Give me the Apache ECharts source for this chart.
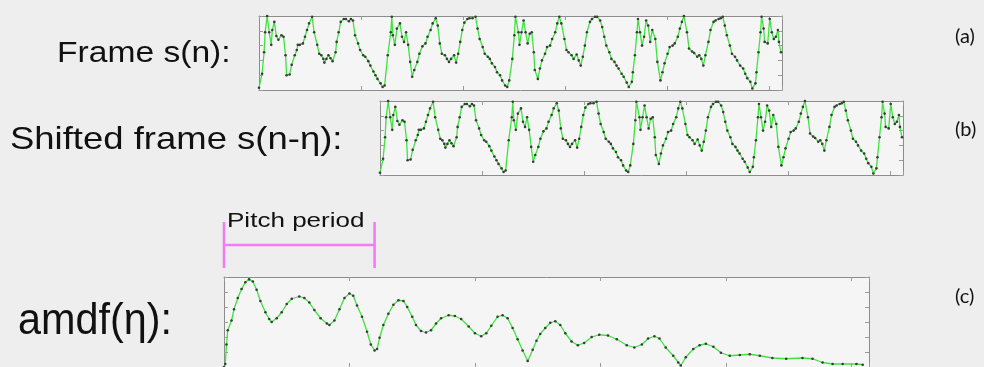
<!DOCTYPE html>
<html><head><meta charset="utf-8">
<script src="https://cdn.jsdelivr.net/npm/echarts@6/dist/echarts.min.js"></script>
<style>html,body{margin:0;padding:0;background:#eeeeee}#c{width:984px;height:367px}</style>
</head><body><div id="c"></div>
<script>
// Speech frame s(n): [sample index n, amplitude (0..100 of frame range)]
const frameSignal = [[0,3],[3,22],[5,51],[6,78],[8,100],[10,78],[12,61],[13,81],[15,92],[17,73],[19,68],[22,74],[24,72],[26,47],[27,20],[30,21],[32,34],[35,47],[37,54],[38,61],[40,61],[43,63],[45,72],[47,81],[49,90],[52,99],[54,78],[57,61],[59,49],[61,47],[63,42],[64,37],[66,42],[68,47],[70,43],[72,39],[75,51],[76,65],[78,78],[80,92],[83,96],[85,96],[88,93],[90,96],[92,94],[94,74],[97,63],[99,54],[102,47],[104,45],[107,39],[109,33],[112,25],[114,20],[116,15],[119,9],[121,4],[123,6],[126,47],[129,78],[130,99],[131,74],[133,61],[135,83],[138,90],[140,72],[142,65],[144,78],[146,61],[148,38],[150,18],[152,27],[155,38],[157,49],[160,59],[163,63],[165,72],[168,81],[170,90],[173,97],[175,87],[177,63],[179,49],[182,47],[184,42],[186,38],[188,42],[191,47],[193,37],[195,49],[197,65],[199,81],[201,91],[204,96],[206,97],[209,97],[212,99],[214,83],[216,69],[219,58],[221,49],[224,45],[226,42],[228,36],[231,31],[233,24],[236,20],[238,13],[241,6],[243,4],[245,13],[248,42],[250,74],[251,99],[254,78],[255,61],[257,78],[259,94],[261,78],[263,63],[265,76],[267,78],[269,51],[270,27],[273,15],[275,29],[277,40],[280,49],[282,58],[285,60],[287,69],[290,78],[292,90],[294,99],[296,90],[299,69],[301,54],[303,51],[306,47],[308,42],[311,48],[313,40],[315,33],[317,45],[319,60],[321,78],[324,92],[326,96],[329,99],[331,99],[334,94],[336,85],[338,72],[340,60],[343,51],[345,42],[348,38],[350,33],[352,29],[355,22],[357,18],[360,10],[362,4],[365,11],[366,24],[368,47],[370,78],[371,96],[373,78],[375,60],[377,72],[379,94],[381,87],[383,65],[385,81],[388,69],[390,38],[393,13],[395,24],[397,36],[400,49],[402,58],[405,60],[407,63],[410,72],[412,83],[414,92],[416,100],[419,78],[421,56],[424,52],[426,50],[429,45],[431,47],[433,42],[435,33],[437,47],[440,65],[442,81],[445,92],[447,94],[450,96],[452,97],[454,99],[456,87],[458,74],[461,60],[463,49],[466,45],[468,40],[471,33],[474,29],[476,22],[478,16],[481,11],[483,2],[486,9],[487,24],[489,51],[491,78],[492,99],[494,83],[495,65],[498,63],[500,96],[502,78],[504,69],[506,72],[508,81],[509,65],[511,51]];

// AMDF: [lag eta, amdf value (0..120 of axis range)]
const amdfCurve = [[0,0],[1,4],[2,30],[3,49],[6,62],[8,77],[11,92],[14,104],[17,113],[20,117],[23,114],[26,103],[29,88],[33,73],[36,64],[38,60],[42,65],[46,73],[50,84],[54,91],[60,94],[64,92],[68,86],[72,76],[77,65],[82,58],[84,56],[88,62],[92,77],[96,92],[100,98],[103,95],[106,82],[110,67],[114,47],[117,30],[120,22],[122,24],[124,39],[127,56],[131,71],[135,83],[139,89],[143,88],[146,80],[150,67],[153,56],[157,48],[161,46],[165,49],[169,58],[173,65],[179,69],[184,68],[189,64],[195,54],[200,45],[205,41],[209,45],[213,55],[218,67],[222,69],[226,65],[230,52],[234,37],[238,22],[242,8],[246,23],[249,35],[252,44],[256,52],[260,59],[264,61],[268,56],[272,45],[277,34],[282,29],[287,32],[293,40],[299,43],[306,42],[313,37],[321,29],[327,26],[333,30],[338,38],[343,41],[347,38],[352,26],[358,15],[362,6],[364,2],[368,13],[374,24],[379,29],[384,31],[390,27],[396,19],[403,15],[411,16],[419,17],[427,15],[437,12],[448,11],[461,12],[469,11],[477,6],[485,4],[493,4],[504,4],[509,3]];

const pitchPeriod = 120;          // lag of the pitch period bracket
const frameLength = 512;          // samples in a frame
const shiftEta = 119;             // shift of frame (b), in samples
const maxLag = 514;
const rowLabels = ['Frame s(n):', 'Shifted frame s(n-\u03b7):', 'amdf(\u03b7):'];
const panelTags = ['(a)', '(b)', '(c)'];
const bracketLabel = 'Pitch period';

const GREEN = '#3fe23f', DOT = '#3a3a3a', BORDER = '#8c8c8c', TICK = '#9a9a9a';

function ax(type, grid, min, max, interval, pos) {
  return {
    type: 'value', gridIndex: grid, min: min, max: max, interval: interval, position: pos,
    axisLine: { show: true, onZero: false, lineStyle: { color: BORDER, width: 1 } },
    axisTick: { show: true, inside: true, length: 4, lineStyle: { color: TICK } },
    axisLabel: { show: false }, splitLine: { show: false }
  };
}
const grids = [
  { left: 259, top: 16, width: 523, height: 74 },
  { left: 380, top: 101, width: 523, height: 74 },
  { left: 224, top: 277, width: 645, height: 93 },
  { left: 224, top: 222, width: 645, height: 46 }
];
const xAxes = [], yAxes = [];
[0, 1].forEach(g => {
  xAxes.push(ax('x', g, 0, frameLength, 100, 'bottom'));
  xAxes.push(ax('x', g, 0, frameLength, 100, 'top'));
  yAxes.push(ax('y', g, 0, 100, 20, 'left'));
  yAxes.push(ax('y', g, 0, 100, 20, 'right'));
});
xAxes.push(ax('x', 2, 0, maxLag, 100, 'bottom'));
xAxes.push(ax('x', 2, 0, maxLag, 100, 'top'));
yAxes.push(ax('y', 2, 0, 120, 20, 'left'));
yAxes.push(ax('y', 2, 0, 120, 20, 'right'));
xAxes.push({ type: 'value', gridIndex: 3, min: 0, max: maxLag, show: false });
yAxes.push({ type: 'value', gridIndex: 3, min: 0, max: 2, show: false });

function sig(xi, yi, data) {
  return {
    type: 'line', xAxisIndex: xi, yAxisIndex: yi, data: data,
    symbol: 'circle', symbolSize: 2.6, showAllSymbol: true,
    itemStyle: { color: DOT }, lineStyle: { color: GREEN, width: 1.3 },
    animation: false, silent: true
  };
}
function br(data) {
  return { type: 'line', xAxisIndex: 6, yAxisIndex: 6, data: data, symbol: 'none',
    lineStyle: { color: '#f27df2', width: 2.6 }, animation: false, silent: true };
}

const chart = echarts.init(document.getElementById('c'), null, { renderer: 'canvas' });
chart.setOption({
  backgroundColor: '#eeeeee',
  grid: grids.map((g, i) => Object.assign({ show: i < 3, backgroundColor: '#f5f5f5', borderWidth: 0 }, g)),
  xAxis: xAxes, yAxis: yAxes,
  series: [
    sig(0, 0, frameSignal),
    sig(2, 2, frameSignal),
    sig(4, 4, amdfCurve),
    br([[0, 0], [0, 2]]),
    br([[0, 1], [pitchPeriod, 1]]),
    br([[pitchPeriod, 0], [pitchPeriod, 2]])
  ],
  graphic: [
    { type: 'text', x: 57, y: 54, scaleX: 1.12, style: { text: rowLabels[0], font: '30px "Liberation Sans"', fill: '#111', textVerticalAlign: 'middle', verticalAlign: 'middle' } },
    { type: 'text', x: 10, y: 140, scaleX: 1.14, style: { text: rowLabels[1], font: '32px "Liberation Sans"', fill: '#111', textVerticalAlign: 'middle', verticalAlign: 'middle' } },
    { type: 'text', x: 18, y: 322, scaleX: 0.94, style: { text: rowLabels[2], font: '44px "Liberation Sans"', fill: '#111', textVerticalAlign: 'middle', verticalAlign: 'middle' } },
    { type: 'text', x: 227, y: 221, scaleX: 1.24, style: { text: bracketLabel, font: '21px "Liberation Sans"', fill: '#111', textVerticalAlign: 'middle', verticalAlign: 'middle' } },
    { type: 'text', x: 955, y: 37, style: { text: panelTags[0], font: '20px Lato', fill: '#111', textVerticalAlign: 'middle', verticalAlign: 'middle' } },
    { type: 'text', x: 955, y: 130, style: { text: panelTags[1], font: '20px Lato', fill: '#111', textVerticalAlign: 'middle', verticalAlign: 'middle' } },
    { type: 'text', x: 955, y: 297, style: { text: panelTags[2], font: '20px Lato', fill: '#111', textVerticalAlign: 'middle', verticalAlign: 'middle' } }
  ]
});
</script></body></html>
